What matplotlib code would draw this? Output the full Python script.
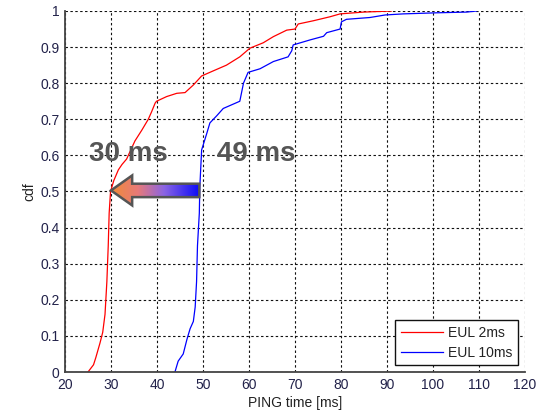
import numpy as np
import matplotlib
matplotlib.use('Agg')
import matplotlib.pyplot as plt
from matplotlib.patches import Polygon
from matplotlib.colors import LinearSegmentedColormap

plt.rcParams['font.family'] = ['Liberation Sans', 'DejaVu Sans']

# CDF curves
red_x = [25.0, 25.6, 26.2, 26.7, 27.6, 28.2, 28.7, 29.1, 29.4, 29.6, 29.9,
         30.6, 31.6, 32.4, 33.4, 34.3, 35.2, 36.7, 38.1, 38.8, 39.6, 39.9,
         42.1, 44.3, 46.1, 47.9, 49.7, 52.2, 55.1, 58.0, 60.2, 63.1, 65.3,
         68.2, 70.0, 70.7, 74.0, 77.6, 79.8, 84.9, 91.0]
red_y = [0.0, 0.01, 0.02, 0.04, 0.08, 0.11, 0.16, 0.25, 0.35, 0.44, 0.50,
         0.53, 0.56, 0.575, 0.59, 0.615, 0.64, 0.67, 0.70, 0.72, 0.745, 0.75,
         0.763, 0.772, 0.774, 0.795, 0.82, 0.834, 0.85, 0.873, 0.897, 0.912, 0.929,
         0.947, 0.95, 0.964, 0.973, 0.984, 0.992, 0.997, 1.0]

blue_x = [43.9, 44.6, 45.7, 46.5, 47.2, 47.9, 48.3, 48.6, 48.8, 49.2, 49.3,
          49.7, 50.8, 51.5, 53.0, 54.4, 58.0, 58.8, 59.8, 62.4, 65.3, 68.5,
          69.3, 69.6, 73.3, 76.2, 76.9, 79.8, 80.1, 81.2, 86.3, 89.6, 93.5,
          100.8, 107.3, 109.5]
blue_y = [0.0, 0.03, 0.05, 0.09, 0.12, 0.14, 0.18, 0.25, 0.35, 0.44, 0.51,
          0.615, 0.66, 0.69, 0.71, 0.73, 0.75, 0.80, 0.83, 0.84, 0.86, 0.873,
          0.89, 0.906, 0.92, 0.93, 0.94, 0.95, 0.97, 0.977, 0.982, 0.989, 0.992,
          0.995, 0.997, 1.0]

labels = ['EUL 2ms', 'EUL 10ms']
x_ticks = [20, 30, 40, 50, 60, 70, 80, 90, 100, 110, 120]
y_ticks = [0, 0.1, 0.2, 0.3, 0.4, 0.5, 0.6, 0.7, 0.8, 0.9, 1]
y_ticklabels = ['0', '0.1', '0.2', '0.3', '0.4', '0.5', '0.6', '0.7', '0.8', '0.9', '1']

fig = plt.figure(figsize=(5.37, 4.11), dpi=100)
ax = fig.add_axes([65 / 537, 39 / 411, 460 / 537, 361 / 411])

ax.plot(red_x, red_y, color='#ff0000', linewidth=0.9, label=labels[0])
ax.plot(blue_x, blue_y, color='#0000ff', linewidth=0.9, label=labels[1])

ax.set_xlim(20, 120)
ax.set_ylim(0, 1)
ax.set_xticks(x_ticks)
ax.set_yticks(y_ticks)
ax.set_yticklabels(y_ticklabels)
ax.tick_params(length=0, labelsize=10, colors='#22224a', pad=4)

ax.grid(True, color='#111111', linestyle=(0, (2.2, 2.2)), linewidth=0.8)
for s in ['top', 'right']:
    ax.spines[s].set_visible(False)
for s in ['left', 'bottom']:
    ax.spines[s].set_color('#444444')
    ax.spines[s].set_linewidth(1.3)

ax.set_xlabel('PING time [ms]', fontsize=10, color='#222222', labelpad=3)
ax.set_ylabel('cdf', fontsize=10, color='#222222', labelpad=3)

# gradient arrow from 49 ms back to 30 ms
tip_x, tail_x, y0 = 30.0, 49.2, 0.503
head_len = 4.6
body_h, head_h = 0.0186, 0.0415
verts = [(tip_x, y0), (tip_x + head_len, y0 + head_h), (tip_x + head_len, y0 + body_h),
         (tail_x, y0 + body_h), (tail_x, y0 - body_h), (tip_x + head_len, y0 - body_h),
         (tip_x + head_len, y0 - head_h)]
arrow = Polygon(verts, closed=True, facecolor='none', edgecolor='#555555',
                linewidth=1.8, zorder=5, joinstyle='miter')
ax.add_patch(arrow)
cmap = LinearSegmentedColormap.from_list(
    'arr', [(0.0, '#f08c38'), (0.3, '#e87a78'), (0.6, '#8a64e4'), (1.0, '#0a0af8')])
grad = np.linspace(0, 1, 256).reshape(1, -1)
im = ax.imshow(grad, cmap=cmap, aspect='auto', zorder=4,
               extent=[tip_x, tail_x, y0 - head_h, y0 + head_h], interpolation='bilinear')
im.set_clip_path(arrow)

ax.text(25.3, 0.585, '30 ms', fontsize=20, fontweight='bold', color='#555555', zorder=6)
ax.text(53.0, 0.585, '49 ms', fontsize=20, fontweight='bold', color='#555555', zorder=6)

leg = ax.legend(loc='lower right', fontsize=10, handlelength=3.0, handletextpad=0.4,
                borderaxespad=0.5, fancybox=False, framealpha=1, labelspacing=0.4)
leg.get_frame().set_edgecolor('#111111')
leg.get_frame().set_linewidth(1.0)
for t in leg.get_texts():
    t.set_color('#222222')

fig.savefig('out.png', dpi=100)
